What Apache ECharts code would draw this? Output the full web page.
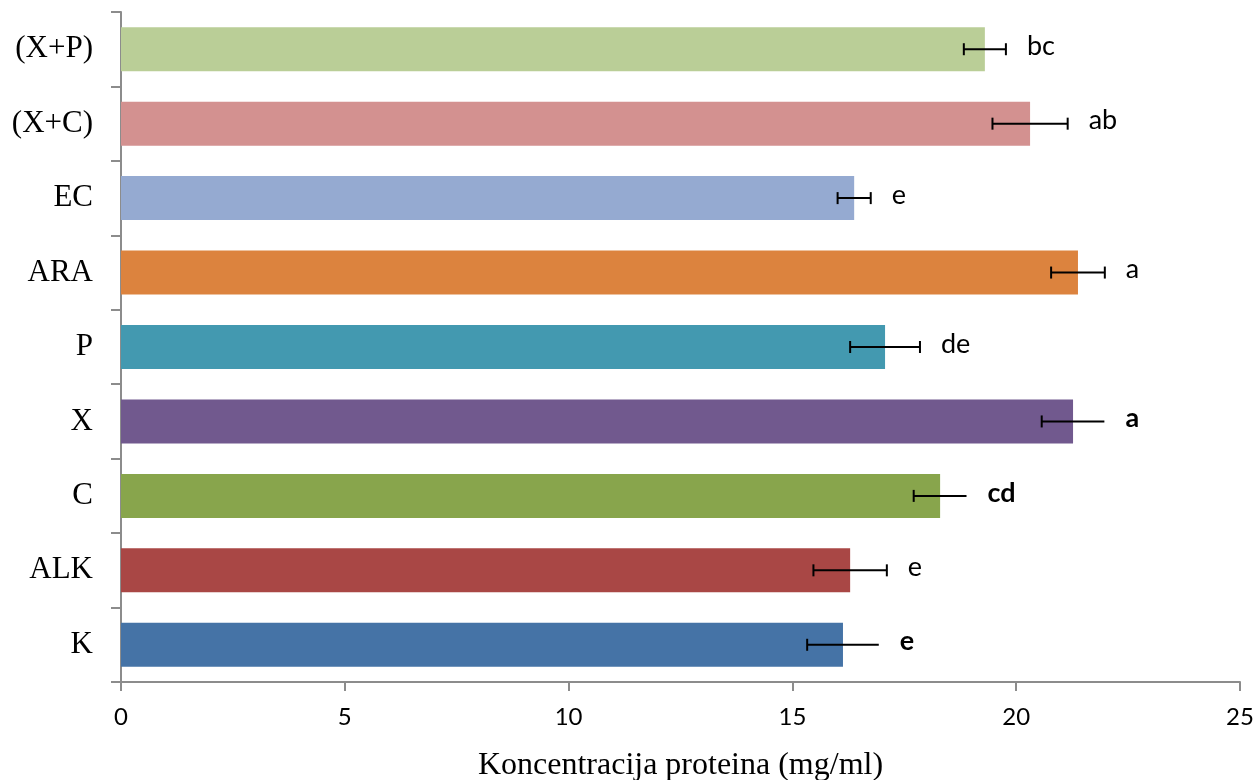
<!DOCTYPE html>
<html>
<head>
    <meta charset="utf-8">
    <title>Koncentracija proteina</title>
    <script src="https://cdn.jsdelivr.net/npm/echarts@6/dist/echarts.min.js"></script>
</head>
<body style="margin:0;background:#fff;">
    <div id="main" style="width:1255px;height:780px;"></div>
    <script type="text/javascript">
    var myChart = echarts.init(document.getElementById('main'));
    // Data (bottom to top, as ECharts draws category axes)
    var groups = ['K', 'ALK', 'C', 'X', 'P', 'ARA', 'EC', '(X+C)', '(X+P)'];
    var means = [16.13, 16.29, 18.30, 21.27, 17.07, 21.38, 16.38, 20.31, 19.30];
    var errors = [0.80, 0.82, 0.59, 0.70, 0.78, 0.60, 0.37, 0.84, 0.47];
    var letters = ['e', 'e', 'cd', 'a', 'de', 'a', 'e', 'ab', 'bc'];
    var boldGroups = ['K', 'C', 'X'];
    var xTicks = [0, 5, 10, 15, 20, 25];

    // Colors
    var barColors = ['#4573a6', '#a94745', '#88a54c', '#71598e', '#4399b0',
                     '#dc833e', '#95aad1', '#d39190', '#bace97'];

    var errData = groups.map(function (g, i) {
      return [i, means[i] - errors[i], means[i] + errors[i]];
    });

    function renderError(params, api) {
      var i = api.value(0);
      var lo = api.coord([api.value(1), i]);
      var hi = api.coord([api.value(2), i]);
      var bold = boldGroups.indexOf(groups[i]) >= 0;
      var cap = 6;
      var children = [{
        type: 'line',
        shape: { x1: lo[0], y1: lo[1], x2: hi[0], y2: hi[1] },
        style: { stroke: '#000', lineWidth: 2 }
      }, {
        type: 'line',
        shape: { x1: lo[0], y1: lo[1] - cap, x2: lo[0], y2: lo[1] + cap },
        style: { stroke: '#000', lineWidth: 2 }
      }];
      // the bold-marked bars have no cap on the right end
      if (!bold) {
        children.push({
          type: 'line',
          shape: { x1: hi[0], y1: hi[1] - cap, x2: hi[0], y2: hi[1] + cap },
          style: { stroke: '#000', lineWidth: 2 }
        });
      }
      children.push({
        type: 'text',
        style: {
          text: letters[i],
          x: hi[0] + 21,
          y: hi[1] - 3,
          fill: '#000',
          font: (bold ? 'bold ' : '') + '27px Lato',
          align: 'left',
          verticalAlign: 'middle'
        }
      });
      return { type: 'group', children: children };
    }

    var option = {
      backgroundColor: '#fff',
      animation: false,
      grid: {
        left: 121,
        right: 15,
        top: 12,
        bottom: 98,
        outerBoundsMode: 'none',
        containLabel: false
      },
      xAxis: {
        type: 'value',
        min: xTicks[0],
        max: xTicks[xTicks.length - 1],
        interval: 5,
        name: 'Koncentracija proteina (mg/ml)',
        nameLocation: 'middle',
        nameGap: 68,
        nameTextStyle: {
          color: '#000',
          fontFamily: 'Liberation Serif',
          fontSize: 32
        },
        axisLine: { show: true, lineStyle: { color: '#8c8c8c', width: 2 } },
        axisTick: { show: true, length: 9, lineStyle: { color: '#8c8c8c', width: 2 } },
        axisLabel: {
          color: '#000',
          fontFamily: 'Lato',
          fontSize: 24,
          margin: 23
        },
        splitLine: { show: false }
      },
      yAxis: {
        type: 'category',
        data: groups,
        axisLine: { show: true, lineStyle: { color: '#8c8c8c', width: 2 } },
        axisTick: { show: true, length: 10, lineStyle: { color: '#8c8c8c', width: 2 } },
        axisLabel: {
          color: '#000',
          fontFamily: 'Liberation Serif',
          fontSize: 31,
          margin: 28
        }
      },
      series: [{
        name: 'Koncentracija',
        type: 'bar',
        barWidth: 44,
        data: means.map(function (v, i) {
          return { value: v, itemStyle: { color: barColors[i] } };
        })
      }, {
        name: 'SD',
        type: 'custom',
        renderItem: renderError,
        encode: { y: 0, x: [1, 2] },
        data: errData,
        z: 10
      }]
    };

    myChart.setOption(option);
    </script>
</body>
</html>
